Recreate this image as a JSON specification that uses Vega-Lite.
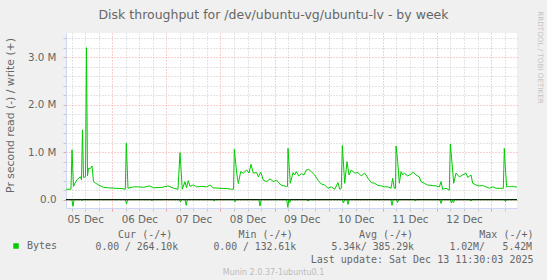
{
  "$schema": "https://vega.github.io/schema/vega-lite/v6.json",
  "width": 451,
  "height": 175,
  "autosize": {"type": "none"},
  "padding": {"left": 66, "top": 33, "right": 30, "bottom": 72},
  "background": "#F0F0F0",
  "title": {
    "text": "Disk throughput for /dev/ubuntu-vg/ubuntu-lv - by week",
    "anchor": "middle",
    "frame": "group",
    "font": "DejaVu Sans",
    "fontSize": 12.5,
    "fontWeight": "normal",
    "color": "#666666",
    "dx": -18,
    "dy": 19,
    "offset": 8
  },
  "config": {
    "view": {"fill": "#FFFFFF", "stroke": null}
  },
  "datasets": {
    "write": [
      {"t": "2025-12-05T03:30:00Z", "v": 220000},
      {"t": "2025-12-05T05:43:00Z", "v": 220000},
      {"t": "2025-12-05T06:10:00Z", "v": 1050000},
      {"t": "2025-12-05T06:50:00Z", "v": 280000},
      {"t": "2025-12-05T07:30:00Z", "v": 350000},
      {"t": "2025-12-05T08:23:00Z", "v": 420000},
      {"t": "2025-12-05T09:16:00Z", "v": 460000},
      {"t": "2025-12-05T09:56:00Z", "v": 480000},
      {"t": "2025-12-05T10:22:00Z", "v": 420000},
      {"t": "2025-12-05T10:49:00Z", "v": 1470000},
      {"t": "2025-12-05T11:16:00Z", "v": 470000},
      {"t": "2025-12-05T12:09:00Z", "v": 480000},
      {"t": "2025-12-05T12:35:00Z", "v": 3200000},
      {"t": "2025-12-05T13:02:00Z", "v": 500000},
      {"t": "2025-12-05T13:29:00Z", "v": 660000},
      {"t": "2025-12-05T14:22:00Z", "v": 660000},
      {"t": "2025-12-05T15:02:00Z", "v": 710000},
      {"t": "2025-12-05T15:42:00Z", "v": 380000},
      {"t": "2025-12-05T16:35:00Z", "v": 350000},
      {"t": "2025-12-05T17:55:00Z", "v": 310000},
      {"t": "2025-12-05T20:08:00Z", "v": 260000},
      {"t": "2025-12-05T22:21:00Z", "v": 250000},
      {"t": "2025-12-06T01:14:00Z", "v": 240000},
      {"t": "2025-12-06T04:20:00Z", "v": 235000},
      {"t": "2025-12-06T05:48:00Z", "v": 220000},
      {"t": "2025-12-06T06:14:00Z", "v": 1190000},
      {"t": "2025-12-06T07:00:00Z", "v": 240000},
      {"t": "2025-12-06T09:31:00Z", "v": 270000},
      {"t": "2025-12-06T11:44:00Z", "v": 270000},
      {"t": "2025-12-06T13:57:00Z", "v": 260000},
      {"t": "2025-12-06T16:26:00Z", "v": 290000},
      {"t": "2025-12-06T18:23:00Z", "v": 250000},
      {"t": "2025-12-06T22:04:00Z", "v": 260000},
      {"t": "2025-12-07T00:44:00Z", "v": 290000},
      {"t": "2025-12-07T02:30:00Z", "v": 255000},
      {"t": "2025-12-07T03:24:00Z", "v": 240000},
      {"t": "2025-12-07T05:10:00Z", "v": 220000},
      {"t": "2025-12-07T06:03:00Z", "v": 990000},
      {"t": "2025-12-07T07:04:00Z", "v": 220000},
      {"t": "2025-12-07T08:16:00Z", "v": 380000},
      {"t": "2025-12-07T08:56:00Z", "v": 250000},
      {"t": "2025-12-07T09:44:00Z", "v": 400000},
      {"t": "2025-12-07T10:29:00Z", "v": 280000},
      {"t": "2025-12-07T11:57:00Z", "v": 310000},
      {"t": "2025-12-07T13:28:00Z", "v": 270000},
      {"t": "2025-12-07T15:41:00Z", "v": 280000},
      {"t": "2025-12-07T17:54:00Z", "v": 270000},
      {"t": "2025-12-07T19:22:00Z", "v": 310000},
      {"t": "2025-12-07T20:49:00Z", "v": 250000},
      {"t": "2025-12-07T23:48:00Z", "v": 240000},
      {"t": "2025-12-08T02:46:00Z", "v": 235000},
      {"t": "2025-12-08T04:59:00Z", "v": 220000},
      {"t": "2025-12-08T05:47:00Z", "v": 220000},
      {"t": "2025-12-08T06:08:00Z", "v": 1060000},
      {"t": "2025-12-08T07:12:00Z", "v": 560000},
      {"t": "2025-12-08T07:55:00Z", "v": 340000},
      {"t": "2025-12-08T08:58:00Z", "v": 590000},
      {"t": "2025-12-08T10:08:00Z", "v": 560000},
      {"t": "2025-12-08T11:38:00Z", "v": 625000},
      {"t": "2025-12-08T12:39:00Z", "v": 560000},
      {"t": "2025-12-08T13:32:00Z", "v": 745000},
      {"t": "2025-12-08T14:34:00Z", "v": 560000},
      {"t": "2025-12-08T16:04:00Z", "v": 570000},
      {"t": "2025-12-08T16:47:00Z", "v": 480000},
      {"t": "2025-12-08T17:51:00Z", "v": 580000},
      {"t": "2025-12-08T19:00:00Z", "v": 410000},
      {"t": "2025-12-08T20:30:00Z", "v": 380000},
      {"t": "2025-12-08T21:58:00Z", "v": 440000},
      {"t": "2025-12-08T23:26:00Z", "v": 380000},
      {"t": "2025-12-09T00:56:00Z", "v": 410000},
      {"t": "2025-12-09T02:24:00Z", "v": 330000},
      {"t": "2025-12-09T03:17:00Z", "v": 300000},
      {"t": "2025-12-09T05:12:00Z", "v": 280000},
      {"t": "2025-12-09T05:44:00Z", "v": 280000},
      {"t": "2025-12-09T05:57:00Z", "v": 1080000},
      {"t": "2025-12-09T06:58:00Z", "v": 345000},
      {"t": "2025-12-09T08:10:00Z", "v": 570000},
      {"t": "2025-12-09T08:55:00Z", "v": 520000},
      {"t": "2025-12-09T09:38:00Z", "v": 590000},
      {"t": "2025-12-09T10:42:00Z", "v": 500000},
      {"t": "2025-12-09T11:51:00Z", "v": 550000},
      {"t": "2025-12-09T13:03:00Z", "v": 520000},
      {"t": "2025-12-09T14:04:00Z", "v": 625000},
      {"t": "2025-12-09T15:08:00Z", "v": 640000},
      {"t": "2025-12-09T16:17:00Z", "v": 590000},
      {"t": "2025-12-09T17:47:00Z", "v": 520000},
      {"t": "2025-12-09T19:15:00Z", "v": 410000},
      {"t": "2025-12-09T20:43:00Z", "v": 330000},
      {"t": "2025-12-09T22:13:00Z", "v": 310000},
      {"t": "2025-12-09T23:41:00Z", "v": 240000},
      {"t": "2025-12-10T01:09:00Z", "v": 270000},
      {"t": "2025-12-10T02:40:00Z", "v": 220000},
      {"t": "2025-12-10T04:07:00Z", "v": 360000},
      {"t": "2025-12-10T04:53:00Z", "v": 220000},
      {"t": "2025-12-10T05:35:00Z", "v": 240000},
      {"t": "2025-12-10T06:02:00Z", "v": 1140000},
      {"t": "2025-12-10T07:06:00Z", "v": 345000},
      {"t": "2025-12-10T08:07:00Z", "v": 800000},
      {"t": "2025-12-10T09:00:00Z", "v": 520000},
      {"t": "2025-12-10T10:01:00Z", "v": 625000},
      {"t": "2025-12-10T11:32:00Z", "v": 560000},
      {"t": "2025-12-10T12:59:00Z", "v": 570000},
      {"t": "2025-12-10T14:27:00Z", "v": 500000},
      {"t": "2025-12-10T15:58:00Z", "v": 560000},
      {"t": "2025-12-10T17:26:00Z", "v": 450000},
      {"t": "2025-12-10T18:53:00Z", "v": 360000},
      {"t": "2025-12-10T20:24:00Z", "v": 345000},
      {"t": "2025-12-10T21:52:00Z", "v": 300000},
      {"t": "2025-12-10T23:20:00Z", "v": 290000},
      {"t": "2025-12-11T00:50:00Z", "v": 270000},
      {"t": "2025-12-11T02:18:00Z", "v": 270000},
      {"t": "2025-12-11T03:38:00Z", "v": 240000},
      {"t": "2025-12-11T04:23:00Z", "v": 450000},
      {"t": "2025-12-11T05:05:00Z", "v": 240000},
      {"t": "2025-12-11T05:37:00Z", "v": 240000},
      {"t": "2025-12-11T05:51:00Z", "v": 1130000},
      {"t": "2025-12-11T06:36:00Z", "v": 800000},
      {"t": "2025-12-11T07:19:00Z", "v": 345000},
      {"t": "2025-12-11T08:04:00Z", "v": 590000},
      {"t": "2025-12-11T08:49:00Z", "v": 520000},
      {"t": "2025-12-11T09:32:00Z", "v": 560000},
      {"t": "2025-12-11T11:02:00Z", "v": 500000},
      {"t": "2025-12-11T12:30:00Z", "v": 540000},
      {"t": "2025-12-11T13:31:00Z", "v": 580000},
      {"t": "2025-12-11T14:43:00Z", "v": 520000},
      {"t": "2025-12-11T16:11:00Z", "v": 480000},
      {"t": "2025-12-11T16:56:00Z", "v": 380000},
      {"t": "2025-12-11T18:24:00Z", "v": 345000},
      {"t": "2025-12-11T19:54:00Z", "v": 310000},
      {"t": "2025-12-11T21:22:00Z", "v": 300000},
      {"t": "2025-12-11T23:35:00Z", "v": 290000},
      {"t": "2025-12-12T01:03:00Z", "v": 270000},
      {"t": "2025-12-12T01:48:00Z", "v": 380000},
      {"t": "2025-12-12T02:33:00Z", "v": 220000},
      {"t": "2025-12-12T04:01:00Z", "v": 240000},
      {"t": "2025-12-12T05:29:00Z", "v": 200000},
      {"t": "2025-12-12T05:56:00Z", "v": 1170000},
      {"t": "2025-12-12T06:41:00Z", "v": 770000},
      {"t": "2025-12-12T07:26:00Z", "v": 345000},
      {"t": "2025-12-12T08:27:00Z", "v": 560000},
      {"t": "2025-12-12T09:55:00Z", "v": 480000},
      {"t": "2025-12-12T11:25:00Z", "v": 520000},
      {"t": "2025-12-12T12:53:00Z", "v": 560000},
      {"t": "2025-12-12T13:38:00Z", "v": 470000},
      {"t": "2025-12-12T15:06:00Z", "v": 520000},
      {"t": "2025-12-12T15:51:00Z", "v": 345000},
      {"t": "2025-12-12T17:19:00Z", "v": 310000},
      {"t": "2025-12-12T18:47:00Z", "v": 290000},
      {"t": "2025-12-12T20:17:00Z", "v": 300000},
      {"t": "2025-12-12T21:45:00Z", "v": 270000},
      {"t": "2025-12-12T23:13:00Z", "v": 240000},
      {"t": "2025-12-13T00:44:00Z", "v": 270000},
      {"t": "2025-12-13T02:11:00Z", "v": 240000},
      {"t": "2025-12-13T03:58:00Z", "v": 240000},
      {"t": "2025-12-13T05:26:00Z", "v": 240000},
      {"t": "2025-12-13T05:52:00Z", "v": 1080000},
      {"t": "2025-12-13T06:19:00Z", "v": 690000},
      {"t": "2025-12-13T06:56:00Z", "v": 270000},
      {"t": "2025-12-13T07:39:00Z", "v": 280000},
      {"t": "2025-12-13T08:24:00Z", "v": 270000},
      {"t": "2025-12-13T09:09:00Z", "v": 280000},
      {"t": "2025-12-13T09:52:00Z", "v": 280000},
      {"t": "2025-12-13T10:37:00Z", "v": 270000},
      {"t": "2025-12-13T11:30:00Z", "v": 264100}
    ],
    "read": [
      {"t": "2025-12-05T03:30:00Z", "v": 0},
      {"t": "2025-12-05T06:06:00Z", "v": 0},
      {"t": "2025-12-05T06:36:00Z", "v": -140000},
      {"t": "2025-12-05T07:06:00Z", "v": 0},
      {"t": "2025-12-05T10:06:00Z", "v": 0},
      {"t": "2025-12-05T10:36:00Z", "v": -20000},
      {"t": "2025-12-05T11:06:00Z", "v": 0},
      {"t": "2025-12-06T05:50:00Z", "v": 0},
      {"t": "2025-12-06T06:20:00Z", "v": -90000},
      {"t": "2025-12-06T06:50:00Z", "v": 0},
      {"t": "2025-12-06T17:08:00Z", "v": 0},
      {"t": "2025-12-06T17:38:00Z", "v": -20000},
      {"t": "2025-12-06T18:08:00Z", "v": 0},
      {"t": "2025-12-07T05:46:00Z", "v": 0},
      {"t": "2025-12-07T06:16:00Z", "v": -50000},
      {"t": "2025-12-07T06:46:00Z", "v": 0},
      {"t": "2025-12-07T08:18:00Z", "v": 0},
      {"t": "2025-12-07T08:48:00Z", "v": -120000},
      {"t": "2025-12-07T09:18:00Z", "v": 0},
      {"t": "2025-12-07T20:43:00Z", "v": 0},
      {"t": "2025-12-07T21:13:00Z", "v": -30000},
      {"t": "2025-12-07T21:43:00Z", "v": 0},
      {"t": "2025-12-08T05:57:00Z", "v": 0},
      {"t": "2025-12-08T06:27:00Z", "v": -45000},
      {"t": "2025-12-08T06:57:00Z", "v": 0},
      {"t": "2025-12-08T17:02:00Z", "v": 0},
      {"t": "2025-12-08T17:32:00Z", "v": -135000},
      {"t": "2025-12-08T18:02:00Z", "v": 0},
      {"t": "2025-12-09T05:22:00Z", "v": 0},
      {"t": "2025-12-09T05:52:00Z", "v": -160000},
      {"t": "2025-12-09T06:17:00Z", "v": -10000},
      {"t": "2025-12-09T06:42:00Z", "v": -60000},
      {"t": "2025-12-09T07:12:00Z", "v": 0},
      {"t": "2025-12-09T14:19:00Z", "v": 0},
      {"t": "2025-12-09T14:49:00Z", "v": -30000},
      {"t": "2025-12-09T15:19:00Z", "v": 0},
      {"t": "2025-12-10T06:04:00Z", "v": 0},
      {"t": "2025-12-10T06:34:00Z", "v": -70000},
      {"t": "2025-12-10T07:04:00Z", "v": 0},
      {"t": "2025-12-10T08:04:00Z", "v": 0},
      {"t": "2025-12-10T08:34:00Z", "v": -100000},
      {"t": "2025-12-10T09:04:00Z", "v": 0},
      {"t": "2025-12-11T03:34:00Z", "v": 0},
      {"t": "2025-12-11T04:04:00Z", "v": -120000},
      {"t": "2025-12-11T04:34:00Z", "v": 0},
      {"t": "2025-12-11T06:01:00Z", "v": 0},
      {"t": "2025-12-11T06:31:00Z", "v": -60000},
      {"t": "2025-12-11T07:01:00Z", "v": 0},
      {"t": "2025-12-11T13:54:00Z", "v": 0},
      {"t": "2025-12-11T14:24:00Z", "v": -30000},
      {"t": "2025-12-11T14:54:00Z", "v": 0},
      {"t": "2025-12-12T01:18:00Z", "v": 0},
      {"t": "2025-12-12T01:48:00Z", "v": -80000},
      {"t": "2025-12-12T02:18:00Z", "v": 0},
      {"t": "2025-12-12T05:57:00Z", "v": 0},
      {"t": "2025-12-12T06:27:00Z", "v": -70000},
      {"t": "2025-12-12T06:54:00Z", "v": -10000},
      {"t": "2025-12-12T07:21:00Z", "v": -60000},
      {"t": "2025-12-12T07:51:00Z", "v": 0},
      {"t": "2025-12-12T14:36:00Z", "v": 0},
      {"t": "2025-12-12T15:06:00Z", "v": -30000},
      {"t": "2025-12-12T15:36:00Z", "v": 0},
      {"t": "2025-12-13T05:54:00Z", "v": 0},
      {"t": "2025-12-13T06:24:00Z", "v": -40000},
      {"t": "2025-12-13T06:54:00Z", "v": 0},
      {"t": "2025-12-13T11:30:00Z", "v": 0}
    ]
  },
  "layer": [
    {
      "data": {"name": "write"},
      "mark": {"type": "line", "strokeWidth": 1},
      "encoding": {
        "x": {
          "field": "t",
          "type": "temporal",
          "scale": {
            "type": "utc",
            "domain": [
              {"year": 2025, "month": 12, "date": 5, "hours": 3, "minutes": 30, "utc": true},
              {"year": 2025, "month": 12, "date": 13, "hours": 11, "minutes": 30, "utc": true}
            ]
          },
          "axis": {
            "orient": "bottom",
            "values": [
              {"year": 2025, "month": 12, "date": 5, "hours": 6, "utc": true},
              {"year": 2025, "month": 12, "date": 5, "hours": 12, "utc": true},
              {"year": 2025, "month": 12, "date": 5, "hours": 18, "utc": true},
              {"year": 2025, "month": 12, "date": 6, "hours": 0, "utc": true},
              {"year": 2025, "month": 12, "date": 6, "hours": 6, "utc": true},
              {"year": 2025, "month": 12, "date": 6, "hours": 12, "utc": true},
              {"year": 2025, "month": 12, "date": 6, "hours": 18, "utc": true},
              {"year": 2025, "month": 12, "date": 7, "hours": 0, "utc": true},
              {"year": 2025, "month": 12, "date": 7, "hours": 6, "utc": true},
              {"year": 2025, "month": 12, "date": 7, "hours": 12, "utc": true},
              {"year": 2025, "month": 12, "date": 7, "hours": 18, "utc": true},
              {"year": 2025, "month": 12, "date": 8, "hours": 0, "utc": true},
              {"year": 2025, "month": 12, "date": 8, "hours": 6, "utc": true},
              {"year": 2025, "month": 12, "date": 8, "hours": 12, "utc": true},
              {"year": 2025, "month": 12, "date": 8, "hours": 18, "utc": true},
              {"year": 2025, "month": 12, "date": 9, "hours": 0, "utc": true},
              {"year": 2025, "month": 12, "date": 9, "hours": 6, "utc": true},
              {"year": 2025, "month": 12, "date": 9, "hours": 12, "utc": true},
              {"year": 2025, "month": 12, "date": 9, "hours": 18, "utc": true},
              {"year": 2025, "month": 12, "date": 10, "hours": 0, "utc": true},
              {"year": 2025, "month": 12, "date": 10, "hours": 6, "utc": true},
              {"year": 2025, "month": 12, "date": 10, "hours": 12, "utc": true},
              {"year": 2025, "month": 12, "date": 10, "hours": 18, "utc": true},
              {"year": 2025, "month": 12, "date": 11, "hours": 0, "utc": true},
              {"year": 2025, "month": 12, "date": 11, "hours": 6, "utc": true},
              {"year": 2025, "month": 12, "date": 11, "hours": 12, "utc": true},
              {"year": 2025, "month": 12, "date": 11, "hours": 18, "utc": true},
              {"year": 2025, "month": 12, "date": 12, "hours": 0, "utc": true},
              {"year": 2025, "month": 12, "date": 12, "hours": 6, "utc": true},
              {"year": 2025, "month": 12, "date": 12, "hours": 12, "utc": true},
              {"year": 2025, "month": 12, "date": 12, "hours": 18, "utc": true},
              {"year": 2025, "month": 12, "date": 13, "hours": 0, "utc": true},
              {"year": 2025, "month": 12, "date": 13, "hours": 6, "utc": true}
            ],
            "labelExpr": "utchours(datum.value) == 12 ? utcFormat(datum.value, '%d %b') : ''",
            "labelFont": "DejaVu Sans",
            "labelFontSize": 10.3,
            "labelColor": "#666666",
            "labelPadding": 3,
            "labelOverlap": false,
            "labelFlush": false,
            "labelBound": false,
            "grid": true,
            "gridDash": [1, 2],
            "gridWidth": 1,
            "gridColor": {"condition": {"test": "utchours(datum.value) == 0", "value": "#F0A0A0"}, "value": "#C8C8C8"},
            "ticks": true,
            "tickSize": 3,
            "tickColor": {"condition": {"test": "utchours(datum.value) == 0", "value": "#F0A0A0"}, "value": "#C8C8C8"},
            "domainColor": "#CFD6F8",
            "title": ["Cur (-/+)\u00a0\u00a0\u00a0\u00a0\u00a0\u00a0\u00a0\u00a0\u00a0\u00a0\u00a0Min (-/+)\u00a0\u00a0\u00a0\u00a0\u00a0\u00a0\u00a0\u00a0\u00a0\u00a0\u00a0Avg (-/+)\u00a0\u00a0\u00a0\u00a0\u00a0\u00a0\u00a0\u00a0\u00a0\u00a0\u00a0Max (-/+)\u00a0", "Last update: Sat Dec 13 11:30:03 2025"],
            "titleFont": "DejaVu Sans Mono",
            "titleFontSize": 10,
            "titleFontWeight": "normal",
            "titleColor": "#666666",
            "titleAlign": "right",
            "titleBaseline": "middle",
            "titleLineHeight": 25,
            "titleX": 467,
            "titleY": 26.2
          }
        },
        "y": {
          "field": "v",
          "type": "quantitative",
          "scale": {"domain": [-175000, 3509000], "nice": false, "zero": false},
          "axis": {
            "orient": "left",
            "values": [0, 200000, 400000, 600000, 800000, 1000000, 1200000, 1400000, 1600000, 1800000, 2000000, 2200000, 2400000, 2600000, 2800000, 3000000, 3200000, 3400000],
            "labelExpr": "datum.value % 1000000 == 0 ? (datum.value == 0 ? '0.0' : format(datum.value / 1000000, '.1f') + ' M') : ''",
            "labelFont": "DejaVu Sans",
            "labelFontSize": 10.3,
            "labelColor": "#666666",
            "labelPadding": 7,
            "labelOverlap": false,
            "labelFlush": false,
            "labelBound": false,
            "grid": true,
            "gridDash": [1, 2],
            "gridWidth": 1,
            "gridColor": {"condition": {"test": "datum.value % 1000000 == 0", "value": "#F0A0A0"}, "value": "#C8C8C8"},
            "ticks": true,
            "tickSize": 3,
            "tickColor": {"condition": {"test": "datum.value % 1000000 == 0", "value": "#F0A0A0"}, "value": "#C8C8C8"},
            "domainColor": "#CFD6F8",
            "title": "Pr second read (-) / write (+)",
            "titleFont": "DejaVu Sans",
            "titleFontSize": 10.8,
            "titleFontWeight": "normal",
            "titleColor": "#666666",
            "titleAngle": 270,
            "titleAlign": "center",
            "titleBaseline": "middle",
            "titleX": -56,
            "titleY": 82
          }
        },
        "color": {
          "datum": "Bytes",
          "type": "nominal",
          "scale": {"range": ["#00CC00"]},
          "legend": {
            "orient": "none",
            "legendX": -55,
            "legendY": 208,
            "title": null,
            "padding": 0,
            "symbolType": "square",
            "symbolSize": 30,
            "symbolFillColor": "#00CC00",
            "symbolStrokeColor": "#00CC00",
            "symbolStrokeWidth": 0,
            "labelFont": "DejaVu Sans Mono",
            "labelFontSize": 10,
            "labelColor": "#666666",
            "labelOffset": 6
          }
        }
      }
    },
    {
      "data": {"name": "read"},
      "mark": {"type": "line", "strokeWidth": 1, "color": "#00CC00"},
      "encoding": {
        "x": {
          "field": "t",
          "type": "temporal",
          "axis": {
            "orient": "top",
            "labels": false,
            "ticks": false,
            "domain": false,
            "grid": false,
            "title": "0.00 / 264.10k\u00a0\u00a0\u00a0\u00a0\u00a0\u00a00.00 / 132.61k\u00a0\u00a0\u00a0\u00a0\u00a0\u00a05.34k/ 385.29k\u00a0\u00a0\u00a0\u00a0\u00a0\u00a01.02M/\u00a0\u00a0\u00a05.42M",
            "titleFont": "DejaVu Sans Mono",
            "titleFontSize": 9.8,
            "titleFontWeight": "normal",
            "titleColor": "#666666",
            "titleAlign": "left",
            "titleBaseline": "middle",
            "titleX": 29,
            "titleY": 213.4
          }
        },
        "y": {
          "field": "v",
          "type": "quantitative",
          "axis": {
            "orient": "right",
            "labels": false,
            "ticks": false,
            "domain": false,
            "grid": false,
            "title": "RRDTOOL / TOBI OETIKER",
            "titleFont": "DejaVu Sans",
            "titleFontSize": 7.2,
            "titleFontWeight": "normal",
            "titleColor": "#C4C4C4",
            "titleAngle": 90,
            "titleAlign": "center",
            "titleBaseline": "middle",
            "titleX": 22,
            "titleY": 24
          }
        }
      }
    },
    {
      "data": {"values": [{}]},
      "mark": {"type": "rule", "color": "#000000", "strokeWidth": 1},
      "encoding": {
        "y": {
          "datum": 0,
          "type": "quantitative",
          "axis": {
            "orient": "left",
            "labels": false,
            "ticks": false,
            "domain": false,
            "grid": false,
            "title": "Munin 2.0.37-1ubuntu0.1",
            "titleFont": "DejaVu Sans",
            "titleFontSize": 8,
            "titleFontWeight": "normal",
            "titleColor": "#BBBBBB",
            "titleAngle": 0,
            "titleAlign": "center",
            "titleBaseline": "middle",
            "titleX": 207,
            "titleY": 239.6
          }
        }
      }
    }
  ],
  "resolve": {"axis": {"x": "independent", "y": "independent"}}
}
